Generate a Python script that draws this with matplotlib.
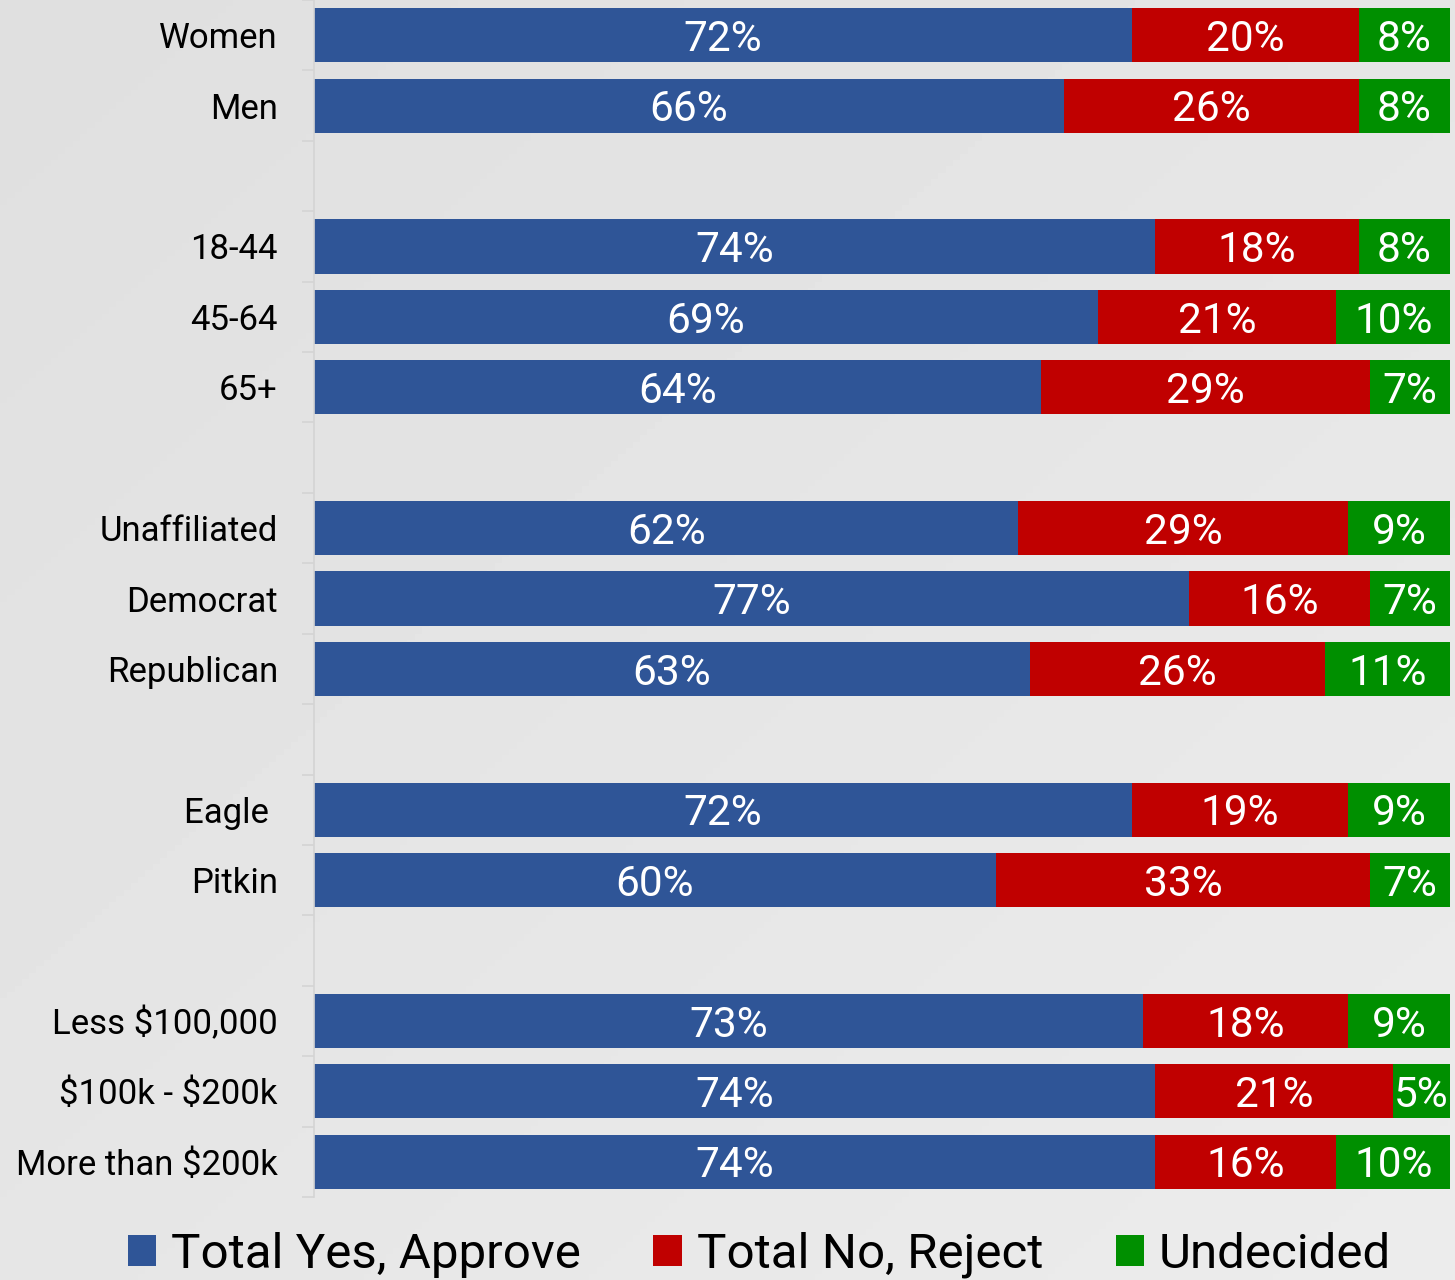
import numpy as np
import matplotlib.pyplot as plt

plt.rcParams['font.family'] = ['Roboto', 'DejaVu Sans']
plt.rcParams['text.parse_math'] = False

# rows top to bottom, "" marks the gap between groups
groups = ['Women', 'Men', '',
          '18-44', '45-64', '65+', '',
          'Unaffiliated', 'Democrat', 'Republican', '',
          'Eagle ', 'Pitkin', '',
          'Less $100,000', '$100k - $200k', 'More than $200k']
yes = [72, 66, np.nan, 74, 69, 64, np.nan, 62, 77, 63, np.nan, 72, 60, np.nan, 73, 74, 74]
no = [20, 26, np.nan, 18, 21, 29, np.nan, 29, 16, 26, np.nan, 19, 33, np.nan, 18, 21, 16]
undecided = [8, 8, np.nan, 8, 10, 7, np.nan, 9, 7, 11, np.nan, 9, 7, np.nan, 9, 5, 10]

series = ['Total Yes, Approve', 'Total No, Reject', 'Undecided']
colors = ['#2F5597', '#C00000', '#008F00']

bg = '#e6e6e6'
fig = plt.figure(figsize=(14.55, 12.8), dpi=100, facecolor=bg)

# faint diagonal gradient behind everything
bgax = fig.add_axes([0, 0, 1, 1], zorder=-1)
gx, gy = np.meshgrid(np.linspace(0, 1, 200), np.linspace(0, 1, 200))
bgax.imshow(0.875 + 0.05 * (gx + gy) / 2, cmap='gray', vmin=0, vmax=1,
            aspect='auto', extent=[0, 1, 0, 1])
bgax.axis('off')

ax = fig.add_axes([314 / 1455, 1 - 1197 / 1280, 1136 / 1455, 1197 / 1280])
ax.patch.set_alpha(0)

y = np.arange(len(groups))
left = np.zeros(len(groups))
for vals, name, c in zip([yes, no, undecided], series, colors):
    vals = np.array(vals, dtype=float)
    w = np.nan_to_num(vals)
    bars = ax.barh(y, w, left=left, height=0.77, color=c, label=name)
    labels = ['' if np.isnan(v) else f'{v:.0f}%' for v in vals]
    anns = ax.bar_label(bars, labels=labels, label_type='center', color='white', fontsize=30.5)
    for a in anns:
        a.xyann = (0, -3)
    left += w

ax.set_xlim(0, 100)
ax.set_ylim(len(groups) - 0.5, -0.5)
ax.set_yticks(y)
ax.set_yticklabels(groups, fontsize=25)
ax.set_yticks(np.arange(-0.5, len(groups)), minor=True)
ax.tick_params(axis='y', which='major', length=0, pad=26)
ax.tick_params(axis='y', which='minor', length=9, color='#d4d4d4', width=1.2)
ax.set_xticks([])
for s in ['top', 'right', 'bottom']:
    ax.spines[s].set_visible(False)
ax.spines['left'].set_color('#d4d4d4')
ax.spines['left'].set_linewidth(1.2)

fig.legend(loc='center', bbox_to_anchor=(0.522, 1 - 1255 / 1280), ncol=3, frameon=False,
           fontsize=35.5, handlelength=0.58, handleheight=0.58, handletextpad=0.3,
           columnspacing=1.47)

fig.savefig('out.png', dpi=100, facecolor=bg)
